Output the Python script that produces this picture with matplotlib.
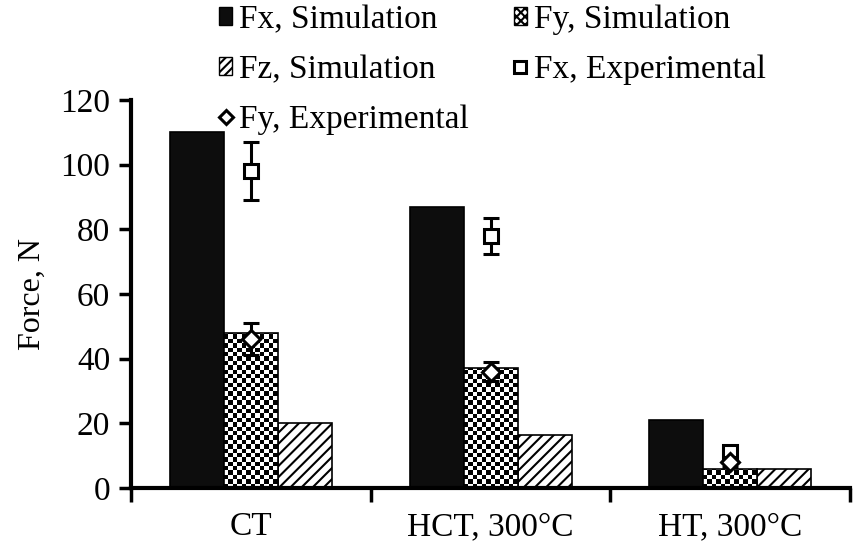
import matplotlib
matplotlib.use("Agg")
import matplotlib.pyplot as plt
from matplotlib.lines import Line2D
from matplotlib.patches import Patch
import numpy as np

plt.rcParams['font.family'] = ['Liberation Serif', 'DejaVu Serif']
plt.rcParams['hatch.linewidth'] = 1.5

# Data ########################################################################
categories = ['CT', 'HCT, 300°C', 'HT, 300°C']
fx_sim = [110, 87, 21]
fy_sim = [48, 37, 6]
fz_sim = [20, 16.5, 6]

fx_exp = [98, 78, 11]
fx_exp_err = [9, 5.5, 1.5]
fy_exp = [46, 36, 8]
fy_exp_err = [5, 3, 1.5]

fig = plt.figure(figsize=(8.57, 5.47), dpi=100)
ax = fig.add_axes([0.153, 0.108, 0.839, 0.709])

x = np.arange(len(categories))
w = 0.225

ax.bar(x - w, fx_sim, w, color='#0d0d0d', edgecolor='black', linewidth=1.2, zorder=2)
b_fy = ax.bar(x, fy_sim, w, color='white', edgecolor='black', linewidth=1.2, zorder=3)
ax.bar(x + w, fz_sim, w, color='white', edgecolor='black', linewidth=1.2,
       hatch='///', zorder=2)

# Checkerboard fill for the Fy bars, clipped to each bar
cell_x = w / 12
cell_y = 1.35
for bar, xc, h in zip(b_fy, x, fy_sim):
    nx = 12
    ny = int(np.ceil(h / cell_y)) + 1
    checker = (np.add.outer(np.arange(ny), np.arange(nx)) % 2).astype(float)
    im = ax.imshow(checker, cmap='gray', vmin=0, vmax=1, interpolation='nearest',
                   extent=(xc - w / 2, xc - w / 2 + nx * cell_x, 0, ny * cell_y),
                   origin='lower', aspect='auto', zorder=2.5)
    im.set_clip_path(bar)
    bar.set_facecolor('none')

# Experimental points with error bars, on top of the Fy bars
ax.errorbar(x, fx_exp, yerr=fx_exp_err, fmt='s', ms=10, mfc='white', mec='black',
            mew=2.2, ecolor='black', elinewidth=2.2, capsize=6, capthick=2.2, zorder=4)
ax.errorbar(x, fy_exp, yerr=fy_exp_err, fmt='D', ms=9, mfc='white', mec='black',
            mew=2.2, ecolor='black', elinewidth=2.2, capsize=6, capthick=2.2, zorder=5)

ax.set_xlim(-0.5, 2.5)
ax.set_ylim(0, 120)
ax.set_yticks(range(0, 121, 20))
ax.set_ylabel('Force, N', fontsize=23, labelpad=10)

# Category labels in the middle, tick marks on the group boundaries
ax.set_xticks(x)
ax.set_xticklabels(categories, fontsize=24)
ax.tick_params(axis='x', which='major', length=0, pad=17)
ax.set_xticks([-0.5, 0.5, 1.5, 2.5], minor=True)
ax.tick_params(axis='x', which='minor', length=10, width=2.5, direction='out')
ax.tick_params(axis='y', labelsize=24, length=9, width=2.5, direction='out', pad=6)

for s in ['top', 'right']:
    ax.spines[s].set_visible(False)
for s in ['left', 'bottom']:
    ax.spines[s].set_linewidth(3)

# Legend in two columns, filled row by row
h_fx = Patch(facecolor='#0d0d0d', edgecolor='black', label='Fx, Simulation')
h_fy = Patch(facecolor='white', edgecolor='black', hatch='xxxx', label='Fy, Simulation')
h_fz = Patch(facecolor='white', edgecolor='black', hatch='////', label='Fz, Simulation')
h_fxe = Line2D([], [], ls='none', marker='s', ms=8, mfc='white', mec='black', mew=2.2,
               label='Fx, Experimental')
h_fye = Line2D([], [], ls='none', marker='D', ms=7, mfc='white', mec='black', mew=2.2,
               label='Fy, Experimental')
handles = [h_fx, h_fz, h_fye, h_fy, h_fxe]
labels = [h.get_label() for h in handles]
fig.legend(handles, labels, loc='upper left', bbox_to_anchor=(0.24, 1.016), ncol=2,
           frameon=False, fontsize=24, handlelength=0.4, handleheight=0.45,
           handletextpad=0.2, columnspacing=1.35, labelspacing=0.58, borderaxespad=0)

fig.savefig('out.png', dpi=100)
